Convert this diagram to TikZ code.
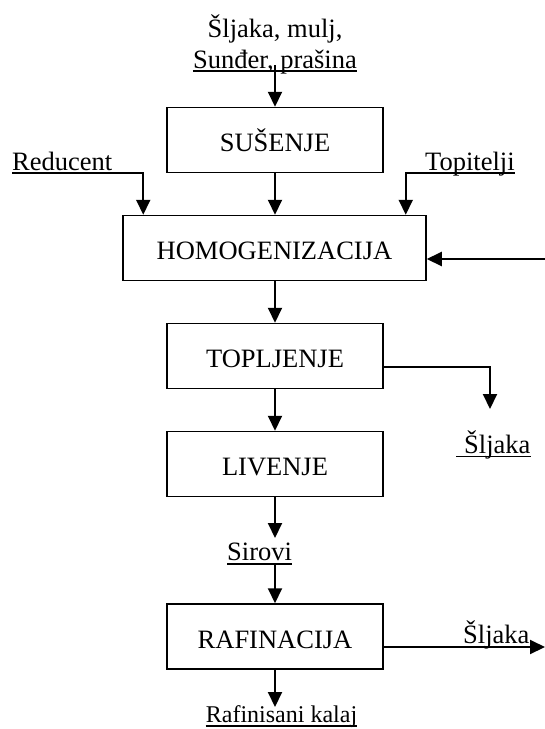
\documentclass[tikz,border=0pt]{standalone}
\usepackage{fontspec}
\setmainfont{Liberation Serif}
\usetikzlibrary{arrows.meta}

\begin{document}
\begin{tikzpicture}[x=1pt, y=-1pt,
  box/.style={draw, line width=1.5pt, minimum width=216pt, minimum height=65pt,
    inner sep=0pt, font=\fontsize{26.5}{30}\selectfont, text height=23pt, text depth=0pt},
  flow/.style={line width=2pt, -{Triangle[length=15pt,width=14pt]}},
  lbl/.style={inner sep=0pt, font=\fontsize{26.5}{30}\selectfont},
  uline/.style={line width=1.2pt}]

	\useasboundingbox (0,0) rectangle (545,729);

	% Process steps
	\node[box] (susenje) at (275,140) {SUŠENJE};
	\node[box, minimum width=303pt] (homog) at (274.5,248) {HOMOGENIZACIJA};
	\node[box] (topljenje) at (275,356) {TOPLJENJE};
	\node[box] (livenje) at (275,464) {LIVENJE};
	\node[box] (rafinacija) at (275,636.5) {RAFINACIJA};

	% Inputs and outputs
	\node[lbl, anchor=base] (ulaz1) at (275,37) {Šljaka, mulj,};
	\node[lbl, anchor=base] (ulaz2) at (275,68) {Sunđer, prašina};
	\node[lbl, anchor=base west] (reducent) at (12,170) {Reducent};
	\node[lbl, anchor=base west] (topitelji) at (425,170) {Topitelji};
	\node[lbl, anchor=base west] (sljaka1) at (464,453) {Šljaka};
	\node[lbl, anchor=base west] (sirovi) at (227,560) {Sirovi};
	\node[lbl, anchor=base west] (sljaka2) at (463,643) {Šljaka};
	\node[lbl, anchor=base, font=\fontsize{24}{28}\selectfont] (kalaj) at (281.5,722) {Rafinisani kalaj};

	% Free ends
	\coordinate (povrat) at (545,259);
	\coordinate (sljaka1ulaz) at (490,409);
	\coordinate (siroviulaz) at (275,538);
	\coordinate (siroviizlaz) at (275,563);
	\coordinate (sljaka2izlaz) at (545,647);
	\coordinate (kalajulaz) at (275,707);

	% Flows
	\draw[flow] ([yshift=3pt]ulaz2.base) -- (susenje.north);
	\draw[flow] ([yshift=-3pt]reducent.base west) -| ([xshift=21pt]homog.north west);
	\draw[flow] (susenje.south) -- (susenje.south |- homog.north);
	\draw[flow] ([yshift=-3pt]topitelji.base east) -| ([xshift=-21pt]homog.north east);
	\draw[flow] (povrat) -- (povrat -| homog.east);
	\draw[flow] (topljenje.north |- homog.south) -- (topljenje.north);
	\draw[flow] ([yshift=-11pt]topljenje.east) -| (sljaka1ulaz);
	\draw[flow] (topljenje.south) -- (livenje.north);
	\draw[flow] (livenje.south) -- (siroviulaz);
	\draw[flow] (siroviizlaz) -- (rafinacija.north);
	\draw[flow] ([yshift=-10.5pt]rafinacija.east) -- (sljaka2izlaz);
	\draw[flow] (rafinacija.south) -- (kalajulaz);

	% Underlines
	\draw[uline] ([yshift=-3pt]ulaz2.base west) -- ([yshift=-3pt]ulaz2.base east);
	\draw[uline] ([xshift=-8pt,yshift=-3.5pt]sljaka1.base west) -- ([yshift=-3.5pt]sljaka1.base east);
	\draw[uline] ([yshift=-4pt]sirovi.base west) -- ([yshift=-4pt]sirovi.base east);
	\draw[uline] ([yshift=-4pt]kalaj.base west) -- ([yshift=-4pt]kalaj.base east);

\end{tikzpicture}
\end{document}
